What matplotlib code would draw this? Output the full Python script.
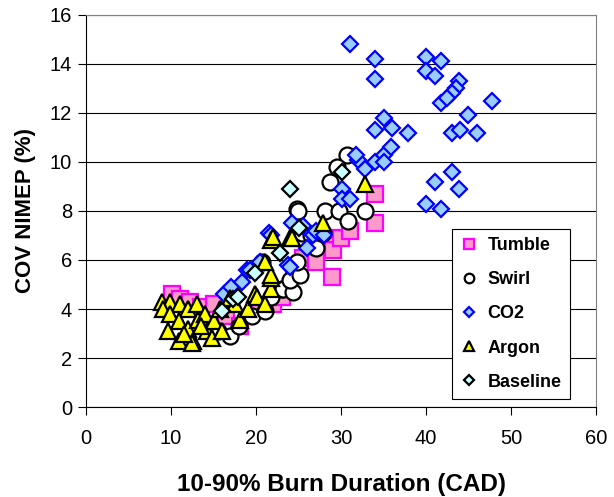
import matplotlib
matplotlib.use('Agg')
import matplotlib.pyplot as plt

plt.rcParams['font.family'] = ['Liberation Sans', 'DejaVu Sans']

# Tumble
tumble_x = [10.1, 11.0, 12.2, 13.5, 15.0, 16.5, 18.1, 20.5, 22.0, 23.0, 24.5, 25.5,
            27.1, 28.9, 28.9, 29.1, 30.0, 31.1, 34.0, 34.0]
tumble_y = [4.6, 4.4, 4.3, 4.1, 4.2, 3.7, 3.3, 4.0, 4.2, 4.5, 5.6, 6.1,
            5.9, 5.3, 6.6, 6.4, 6.9, 7.2, 7.5, 8.7]

# Swirl
swirl_x = [15.5, 16.9, 18.0, 19.5, 21.1, 21.8, 23.0, 23.2, 24.4, 24.0, 25.2, 24.8,
           20.7, 25.4, 24.8, 24.9, 26.5, 27.0, 27.9, 28.1, 28.7, 29.7, 30.8, 32.8,
           30.7, 29.5]
swirl_y = [3.1, 2.9, 3.3, 3.7, 3.9, 4.5, 4.8, 4.8, 4.7, 5.2, 5.4, 5.9,
           5.9, 7.1, 8.1, 8.0, 7.0, 6.5, 7.1, 8.0, 9.2, 8.0, 7.6, 8.0,
           10.3, 9.8]

# CO2
co2_x = [16.2, 17.0, 18.3, 18.9, 19.3, 20.5, 21.5, 21.8, 23.8, 24.0, 24.2, 25.5,
         26.0, 26.7, 27.1, 28.0, 30.1, 30.1, 31.1, 32.0, 31.8, 32.8, 34.0, 35.0,
         35.0, 35.9, 34.0, 35.0, 36.0, 37.9, 31.0, 34.0, 34.0, 40.0, 41.8, 40.0,
         41.1, 43.9, 43.5, 43.0, 41.8, 42.5, 47.8, 44.9, 43.0, 44.0, 46.0, 43.0,
         41.0, 43.9, 40.0, 41.8]
co2_y = [4.6, 4.9, 5.1, 5.6, 5.6, 5.9, 7.1, 7.0, 5.8, 5.7, 7.5, 7.4,
         6.5, 7.0, 7.2, 7.0, 8.9, 8.5, 8.5, 10.1, 10.3, 9.7, 10.0, 10.3,
         10.0, 10.6, 11.3, 11.8, 11.4, 11.2, 14.8, 14.2, 13.4, 14.3, 14.1, 13.7,
         13.5, 13.3, 13.0, 12.8, 12.4, 12.6, 12.5, 11.9, 11.2, 11.3, 11.2, 9.6,
         9.2, 8.9, 8.3, 8.1]

# Argon
argon_x = [8.9, 9.9, 11.1, 9.1, 9.9, 12.0, 13.0, 10.9, 12.0, 9.7, 13.2, 14.0,
           10.9, 12.6, 14.2, 15.0, 15.8, 14.8, 16.0, 16.9, 12.5, 11.5, 13.5, 18.1,
           17.5, 19.0, 19.9, 20.1, 21.1, 21.8, 21.8, 21.8, 21.1, 21.8, 22.0, 24.0,
           24.2, 27.9, 32.8]
argon_y = [4.3, 4.3, 4.2, 4.0, 3.8, 4.0, 4.2, 3.5, 3.2, 3.1, 3.55, 3.8,
           2.7, 2.7, 3.1, 3.5, 4.0, 2.8, 3.1, 4.45, 2.6, 3.0, 3.3, 3.55,
           4.2, 4.0, 4.6, 4.5, 4.2, 4.8, 5.25, 5.4, 5.9, 6.8, 6.95, 6.9,
           6.9, 7.5, 9.1]

# Baseline
base_x = [16.0, 17.3, 17.9, 19.9, 22.8, 25.0, 24.0, 30.1]
base_y = [3.9, 4.4, 4.5, 5.45, 6.3, 7.3, 8.9, 9.6]

fig = plt.figure(figsize=(6.14, 4.97), dpi=100)
ax = fig.add_axes([0.140, 0.181, 0.831, 0.789])

ax.plot(tumble_x, tumble_y, 's', ms=11, mfc='#ff99cc', mec='#ff00ff', mew=1.6,
        label='Tumble')
ax.plot(swirl_x, swirl_y, 'o', ms=11.5, mfc='white', mec='black', mew=1.6,
        label='Swirl')
ax.plot(co2_x, co2_y, 'D', ms=8.6, mfc='#99ccff', mec='#0000ff', mew=1.6,
        label='CO2')
ax.plot(argon_x, argon_y, '^', ms=11.5, mfc='#ffff00', mec='black', mew=1.6,
        label='Argon')
ax.plot(base_x, base_y, 'D', ms=8.6, mfc='#ccffff', mec='black', mew=1.6,
        label='Baseline')

ax.set_xlim(0, 60)
ax.set_ylim(0, 16)
ax.set_xticks(range(0, 61, 10))
ax.set_yticks(range(0, 17, 2))
ax.yaxis.grid(True, color='black', lw=0.8)
ax.set_axisbelow(True)
ax.tick_params(direction='out', length=6, width=0.8, labelsize=14.5)
ax.tick_params(axis='x', pad=10)
ax.tick_params(axis='y', pad=4)

ax.spines['right'].set_color('#808080')
ax.spines['top'].set_color('#808080')

ax.set_xlabel('10-90% Burn Duration (CAD)', fontsize=17.5, fontweight='bold', labelpad=18)
ax.set_ylabel('COV NIMEP (%)', fontsize=16, fontweight='bold', labelpad=10)

leg = ax.legend(loc='upper left', bbox_to_anchor=(0.718, 0.454), fancybox=False,
                edgecolor='black', framealpha=1, markerscale=0.6,
                prop={'size': 13, 'weight': 'bold'}, labelspacing=0.95,
                handlelength=1.0, handletextpad=0.5, borderpad=0.45,
                borderaxespad=0)
leg.get_frame().set_linewidth(0.8)

plt.savefig('out.png', dpi=100)
